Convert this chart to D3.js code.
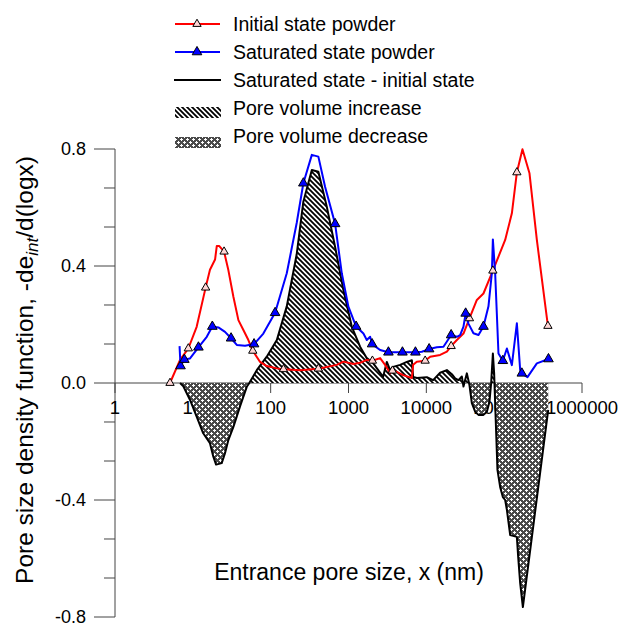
<!DOCTYPE html>
<html><head><meta charset="utf-8">
<script src="https://cdn.jsdelivr.net/npm/d3@7"></script>
<style>
html,body{margin:0;padding:0;background:#fff;}
svg{display:block;font-family:Arial,"Liberation Sans",sans-serif;}
</style></head>
<body><svg id="c" width="622" height="626"></svg>
<script>
// ---- data ----
const initX = [5.09, 6.85, 8.75, 11.2, 14.6, 16.6, 19.3, 20.3, 21.9, 25.2, 28.6, 33.2, 38.5, 44.6, 51.7, 58.9, 73.1, 89.1, 120, 146, 239, 410, 707, 860, 1156, 1409, 1718, 2029, 2548, 2953, 3427, 3667, 4178, 5032, 6513, 6766, 7551, 9660, 11200, 15040, 18360, 20840, 24660, 30000, 35810, 44570, 54200, 71600, 84500, 103000, 125600, 145600, 171800, 211500, 263000, 364700];
const initY = [0.0, 0.079, 0.118, 0.192, 0.326, 0.387, 0.422, 0.468, 0.468, 0.449, 0.386, 0.295, 0.215, 0.181, 0.147, 0.11, 0.072, 0.058, 0.05, 0.047, 0.044, 0.049, 0.062, 0.073, 0.065, 0.069, 0.079, 0.076, 0.085, 0.062, 0.033, 0.042, 0.038, 0.027, 0.017, 0.062, 0.073, 0.076, 0.09, 0.096, 0.107, 0.126, 0.147, 0.169, 0.221, 0.284, 0.306, 0.384, 0.432, 0.489, 0.58, 0.72, 0.799, 0.717, 0.489, 0.195];
const initMarkers = [0, 2, 4, 9, 15, 19, 21, 27, 31, 37, 41, 44, 47, 51, 55];

const satX = [6.75, 6.95, 7.78, 9.21, 11.8, 15.1, 17.8, 21.3, 25.9, 31.0, 36.7, 46.9, 61.2, 80.5, 114, 161, 216, 263, 338, 410, 500, 673, 820, 997, 1253, 1555, 1718, 1896, 2011, 2548, 3258, 4931, 7244, 8750, 10860, 13650, 16600, 20840, 24660, 27180, 30000, 32000, 34760, 40300, 46770, 54200, 62850, 69490, 71600, 76600, 84500, 96200, 108400, 125600, 145600, 160600, 168700, 199200, 263000, 370800];
const satY = [0.126, 0.058, 0.08, 0.084, 0.122, 0.158, 0.193, 0.19, 0.175, 0.153, 0.13, 0.127, 0.133, 0.169, 0.24, 0.375, 0.547, 0.683, 0.78, 0.774, 0.671, 0.544, 0.375, 0.261, 0.193, 0.169, 0.147, 0.158, 0.133, 0.113, 0.105, 0.105, 0.105, 0.107, 0.116, 0.122, 0.124, 0.164, 0.158, 0.164, 0.193, 0.238, 0.203, 0.17, 0.164, 0.193, 0.262, 0.376, 0.491, 0.376, 0.101, 0.076, 0.118, 0.061, 0.204, 0.044, 0.033, 0.02, 0.067, 0.082];
const satMarkers = [1, 2, 4, 6, 9, 12, 14, 17, 21, 24, 28, 30, 31, 32, 34, 37, 41, 45, 51, 56, 59];

const diffX = [6.85, 7.55, 9.21, 11.2, 13.6, 16.6, 18.3, 19.9, 23.5, 25.9, 28.6, 33.2, 40.4, 49.3, 53.2, 66.3, 89.1, 120, 161, 216, 263, 338, 410, 526, 673, 860, 1103, 1409, 1718, 2071, 2786, 3106, 3427, 3744, 4605, 5615, 6513, 6766, 7551, 10150, 12220, 15040, 18360, 21270, 23450, 25860, 28590, 30000, 33180, 35810, 38450, 42380, 46770, 54200, 59950, 64720, 68070, 71600, 74350, 76600, 82000, 88900, 96200, 103000, 108400, 119500, 145600, 151400, 160600, 173900, 368000];
const diffY = [0.0, -0.011, -0.058, -0.115, -0.172, -0.206, -0.251, -0.279, -0.274, -0.24, -0.195, -0.15, -0.08, -0.013, 0.0, 0.044, 0.09, 0.147, 0.262, 0.44, 0.62, 0.728, 0.722, 0.603, 0.465, 0.318, 0.192, 0.124, 0.085, 0.068, 0.021, 0.072, 0.044, 0.055, 0.062, 0.072, 0.078, 0.021, 0.017, 0.02, 0.01, 0.035, 0.044, 0.03, 0.016, 0.01, 0.022, -0.012, 0.033, -0.007, -0.069, -0.098, -0.109, -0.109, -0.098, -0.064, 0.0, 0.101, 0.033, -0.069, -0.297, -0.356, -0.39, -0.40, -0.434, -0.52, -0.526, -0.595, -0.684, -0.766, -0.092];

const xTicks = [1, 10, 100, 1000, 10000, 100000, 1000000];
const xTickLabels = ["1", "10", "100", "1000", "10000", "100000", "1000000"];
const yMajor = [-0.8, -0.4, 0.0, 0.4, 0.8];
const yMajorLabels = ["-0.8", "-0.4", "0.0", "0.4", "0.8"];
const yMinor = [-0.6667, -0.5333, -0.2667, -0.1333, 0.1333, 0.2667, 0.5333, 0.6667];
const legendLabels = ["Initial state powder", "Saturated state powder", "Saturated state - initial state", "Pore volume increase", "Pore volume decrease"];

// ---- chart ----
const svg = d3.select("#c");
const x = d3.scaleLog().domain([1, 1e6]).range([115, 582]);
const y = d3.scaleLinear().domain([-0.8, 0.8]).range([617, 149]);
const axisCol = "#444";

const defs = svg.append("defs");
const pInc = defs.append("pattern").attr("id", "inc").attr("patternUnits", "userSpaceOnUse").attr("width", 5).attr("height", 5);
pInc.append("rect").attr("width", 5).attr("height", 5).attr("fill", "#fff");
pInc.append("path").attr("d", "M0,0L5,5M-2.5,2.5L2.5,7.5M2.5,-2.5L7.5,2.5").attr("stroke", "#000").attr("stroke-width", 1.8);
const pDec = defs.append("pattern").attr("id", "dec").attr("patternUnits", "userSpaceOnUse").attr("width", 6).attr("height", 6);
pDec.append("rect").attr("width", 6).attr("height", 6).attr("fill", "#4a4a4a");
[[1,0,1,3],[0,1,3,1],[4,3,1,3],[3,4,3,1]].forEach(r => pDec.append("rect").attr("x", r[0]).attr("y", r[1]).attr("width", r[2]).attr("height", r[3]).attr("fill", "#fff"));

// y axis
const gy = svg.append("g");
gy.append("line").attr("x1", 115).attr("x2", 115).attr("y1", y(0.8)).attr("y2", y(-0.8)).attr("stroke", axisCol);
gy.selectAll("line.maj").data(yMajor).join("line").attr("class", "maj")
  .attr("x1", 94).attr("x2", 115).attr("y1", d => y(d)).attr("y2", d => y(d)).attr("stroke", axisCol);
gy.selectAll("line.min").data(yMinor).join("line").attr("class", "min")
  .attr("x1", 104).attr("x2", 115).attr("y1", d => y(d)).attr("y2", d => y(d)).attr("stroke", axisCol);
gy.selectAll("text").data(yMajor).join("text")
  .attr("x", 86).attr("y", d => y(d)).attr("dy", "0.35em").attr("text-anchor", "end")
  .attr("font-size", 18).text((d, i) => yMajorLabels[i]);

// x axis
const gx = svg.append("g");
gx.append("line").attr("x1", x(1)).attr("x2", x(1e6)).attr("y1", y(0)).attr("y2", y(0)).attr("stroke", axisCol);
gx.selectAll("line.t").data(xTicks).join("line").attr("class", "t")
  .attr("x1", d => x(d)).attr("x2", d => x(d)).attr("y1", y(0)).attr("y2", y(0) + 10).attr("stroke", axisCol);
gx.selectAll("text").data(xTicks).join("text")
  .attr("x", d => x(d)).attr("y", y(0) + 31).attr("text-anchor", "middle")
  .attr("font-size", 18.5).text((d, i) => xTickLabels[i]);

// fills
const diffPts = [];
for (let i = 0; i < diffX.length; i++) {
  const p = { px: x(diffX[i]), v: diffY[i] };
  diffPts.push(p);
  if (i < diffX.length - 1) {
    const q = { px: x(diffX[i + 1]), v: diffY[i + 1] };
    if (p.v * q.v < 0) {
      const t = p.v / (p.v - q.v);
      diffPts.push({ px: p.px + t * (q.px - p.px), v: 0 });
    }
  }
}
const areaInc = d3.area().x(d => d.px).y0(y(0)).y1(d => y(Math.max(0, d.v)));
const areaDec = d3.area().x(d => d.px).y0(y(0)).y1(d => y(Math.min(0, d.v)));
svg.append("path").attr("d", areaInc(diffPts)).attr("fill", "url(#inc)");
svg.append("path").attr("d", areaDec(diffPts)).attr("fill", "url(#dec)");

// lines
const line = d3.line().x(d => x(d[0])).y(d => y(d[1]));
const initPts = initX.map((v, i) => [v, initY[i]]);
const satPts = satX.map((v, i) => [v, satY[i]]);
const diffLinePts = diffX.map((v, i) => [v, diffY[i]]);
svg.append("path").attr("d", line(diffLinePts)).attr("fill", "none").attr("stroke", "#000").attr("stroke-width", 2).attr("stroke-linejoin", "round");
svg.append("path").attr("d", line(initPts)).attr("fill", "none").attr("stroke", "#ff0000").attr("stroke-width", 2).attr("stroke-linejoin", "round");
svg.append("path").attr("d", line(satPts)).attr("fill", "none").attr("stroke", "#0000ff").attr("stroke-width", 2).attr("stroke-linejoin", "round");

const tri = d3.symbol().type(d3.symbolTriangle);
svg.selectAll("path.mi").data(initMarkers).join("path").attr("class", "mi")
  .attr("d", tri.size(30)()).attr("transform", i => `translate(${x(initX[i])},${y(initY[i])})`)
  .attr("fill", "#ffd6d6").attr("stroke", "#000").attr("stroke-width", 1);
svg.selectAll("path.ms").data(satMarkers).join("path").attr("class", "ms")
  .attr("d", tri.size(40)()).attr("transform", i => `translate(${x(satX[i])},${y(satY[i])})`)
  .attr("fill", "#0000ff").attr("stroke", "#000").attr("stroke-width", 1);

// legend
const lg = svg.append("g");
const rowY = [24, 52, 80, 108, 136];
lg.append("line").attr("x1", 175).attr("x2", 220).attr("y1", rowY[0]).attr("y2", rowY[0]).attr("stroke", "#ff0000").attr("stroke-width", 2);
lg.append("path").attr("d", tri.size(30)()).attr("transform", `translate(197,${rowY[0]})`).attr("fill", "#ffd6d6").attr("stroke", "#000");
lg.append("line").attr("x1", 175).attr("x2", 220).attr("y1", rowY[1]).attr("y2", rowY[1]).attr("stroke", "#0000ff").attr("stroke-width", 2);
lg.append("path").attr("d", tri.size(40)()).attr("transform", `translate(197,${rowY[1]})`).attr("fill", "#0000ff").attr("stroke", "#000");
lg.append("line").attr("x1", 174).attr("x2", 221).attr("y1", rowY[2]).attr("y2", rowY[2]).attr("stroke", "#000").attr("stroke-width", 2);
lg.append("rect").attr("x", 175).attr("y", rowY[3] - 1).attr("width", 46).attr("height", 11).attr("fill", "url(#inc)");
lg.append("rect").attr("x", 175).attr("y", rowY[4] + 1).attr("width", 46).attr("height", 11).attr("fill", "url(#dec)");
lg.selectAll("text").data(legendLabels).join("text")
  .attr("x", 233).attr("y", (d, i) => rowY[i]).attr("dy", "0.35em")
  .attr("font-size", 19.5).text(d => d);

// axis titles
svg.append("text").attr("x", 349).attr("y", 580).attr("text-anchor", "middle")
  .attr("font-size", 23).text("Entrance pore size, x (nm)");
const yt = svg.append("text").attr("transform", "translate(33,370) rotate(-90)").attr("text-anchor", "middle").attr("font-size", 24.5);
yt.append("tspan").text("Pore size density function, -de");
yt.append("tspan").attr("font-size", 17).attr("font-style", "italic").attr("dy", 5).text("int");
yt.append("tspan").attr("dy", -5).text("/d(logx)");
</script></body></html>
